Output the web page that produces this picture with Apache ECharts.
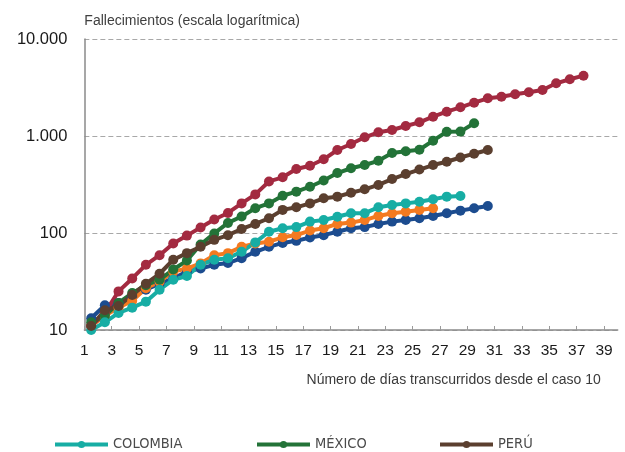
<!DOCTYPE html>
<html>
<head>
<meta charset="utf-8">
<script src="https://cdn.jsdelivr.net/npm/echarts@6/dist/echarts.min.js"></script>
<style>
  html, body { margin: 0; padding: 0; background: #ffffff; }
  #chart { width: 625px; height: 452px; }
</style>
</head>
<body>
<div id="chart"></div>
<script>
// Días transcurridos desde el caso 10 (categorías del eje X)
const dias = [1, 2, 3, 4, 5, 6, 7, 8, 9, 10, 11, 12, 13, 14, 15, 16, 17, 18, 19, 20,
  21, 22, 23, 24, 25, 26, 27, 28, 29, 30, 31, 32, 33, 34, 35, 36, 37, 38, 39];

// Etiquetas del eje X (días impares)
const xTickValues = [1, 3, 5, 7, 9, 11, 13, 15, 17, 19, 21, 23, 25, 27, 29, 31, 33, 35, 37, 39];

// Etiquetas del eje Y (escala logarítmica, separador de miles con punto)
const yTickValues = [10, 100, 1000, 10000];
const yTickLabels = ['10', '100', '1.000', '10.000'];

// Fallecimientos acumulados por día
const colombia = [10, 12, 15, 17, 19.6, 26, 33, 36, 47, 53, 55, 64, 80, 103, 112, 115, 131, 136,
  147, 160, 160, 184, 194, 202, 210, 223, 237, 241];
const mexico = [12, 14, 19, 24, 29, 33, 42, 52, 76, 99, 127, 148, 180, 202, 242, 267, 300, 348,
  415, 465, 502, 555, 668, 695, 721, 895, 1107, 1110, 1352];
const peru = [11, 16, 17.7, 23, 30, 38, 53, 62, 72, 85, 95, 110, 124, 142, 173, 184, 202, 228,
  237, 260, 282, 313, 360, 405, 451, 502, 543, 600, 657, 717];
const serieRoja = [11, 15, 25, 34, 47, 59, 78, 94, 114, 138, 161, 202, 250, 340, 375, 457, 494,
  575, 717, 827, 970, 1092, 1153, 1268, 1384, 1581, 1781, 1977, 2205, 2447, 2542, 2690, 2824,
  2981, 3493, 3843, 4187];
const serieAzul = [13.2, 18, 19, 22, 26, 30, 34, 40, 43, 47, 49, 55, 64, 72, 79, 83, 90, 95, 103,
  112, 115, 124, 131, 136, 142, 150, 160, 170, 180, 190];
const serieNaranja = [11, 14, 17, 20, 27, 31.5, 40, 43, 48.6, 59, 62, 72, 78, 81.4, 90.3, 95.3,
  106, 112, 124, 128, 136, 150, 160, 166, 173, 180];

const colores = {
  colombia: '#17ada4',
  mexico: '#237338',
  peru: '#5b3f2f',
  roja: '#a32a40',
  azul: '#1c4c8f',
  naranja: '#f47a20'
};

const fuente = '"Liberation Sans", Arial, Helvetica, sans-serif';
const fuenteLeyenda = '"Liberation Sans Narrow", "DejaVu Sans Condensed", "Liberation Sans", sans-serif';

function serie(nombre, datos, color) {
  return {
    name: nombre,
    type: 'line',
    xAxisIndex: 1,
    data: datos,
    symbol: 'circle',
    symbolSize: 10,
    showAllSymbol: true,
    lineStyle: { width: 4, color: color },
    itemStyle: { color: color },
    emphasis: { disabled: true },
    animation: false
  };
}

function leyenda(nombre, izquierda) {
  return {
    data: [nombre],
    left: izquierda,
    top: 437,
    padding: 0,
    itemWidth: 53,
    itemHeight: 9,
    itemGap: 0,
    selectedMode: false,
    lineStyle: { width: 4 },
    textStyle: { fontFamily: fuenteLeyenda, fontSize: 14.5, color: '#4a4a4a' }
  };
}

const chart = echarts.init(document.getElementById('chart'), null, { renderer: 'canvas' });

chart.setOption({
  backgroundColor: '#ffffff',
  animation: false,
  textStyle: { fontFamily: fuente },
  grid: {
    left: 84.35,
    right: 7.3,
    top: 39,
    bottom: 122,
    outerBoundsMode: 'none'
  },
  legend: [
    leyenda('COLOMBIA', 53),
    leyenda('MÉXICO', 255),
    leyenda('PERÚ', 438)
  ],
  xAxis: [
    {
      type: 'value',
      min: 1,
      max: 40,
      name: 'Número de días transcurridos desde el caso 10',
      nameLocation: 'end',
      nameGap: -17,
      nameTextStyle: {
        fontFamily: fuente,
        fontSize: 14,
        color: '#3a3a3a',
        align: 'right',
        verticalAlign: 'top',
        padding: [43, 0, 0, 0]
      },
      axisLine: { show: true, lineStyle: { color: '#8a8a8a', width: 1.5 } },
      axisTick: {
        show: true,
        inside: true,
        length: 4,
        customValues: xTickValues,
        lineStyle: { color: '#9a9a9a', width: 1 }
      },
      axisLabel: {
        customValues: xTickValues,
        margin: 13,
        fontFamily: fuente,
        fontSize: 15.5,
        color: '#1a1a1a'
      },
      splitLine: { show: false }
    },
    {
      type: 'category',
      data: dias,
      boundaryGap: true,
      show: false
    }
  ],
  yAxis: {
    type: 'log',
    logBase: 10,
    min: 10,
    max: 10000,
    name: 'Fallecimientos (escala logarítmica)',
    nameLocation: 'end',
    nameGap: 18,
    nameTextStyle: {
      fontFamily: fuente,
      fontSize: 14,
      color: '#404040',
      align: 'left',
      verticalAlign: 'middle'
    },
    axisLine: { show: true, lineStyle: { color: '#8a8a8a', width: 1.5 } },
    axisTick: { show: false },
    axisLabel: {
      margin: 17,
      fontFamily: fuente,
      fontSize: 16.5,
      color: '#1a1a1a',
      formatter: function (v) {
        const i = yTickValues.indexOf(Math.round(v));
        return i >= 0 ? yTickLabels[i] : '';
      }
    },
    splitLine: { show: true, lineStyle: { color: '#a8a8a8', width: 1, type: [5, 3] } }
  },
  series: [
    serie('serie azul', serieAzul, colores.azul),
    serie('serie naranja', serieNaranja, colores.naranja),
    serie('serie roja', serieRoja, colores.roja),
    serie('MÉXICO', mexico, colores.mexico),
    serie('COLOMBIA', colombia, colores.colombia),
    serie('PERÚ', peru, colores.peru)
  ]
});
</script>
</body>
</html>
